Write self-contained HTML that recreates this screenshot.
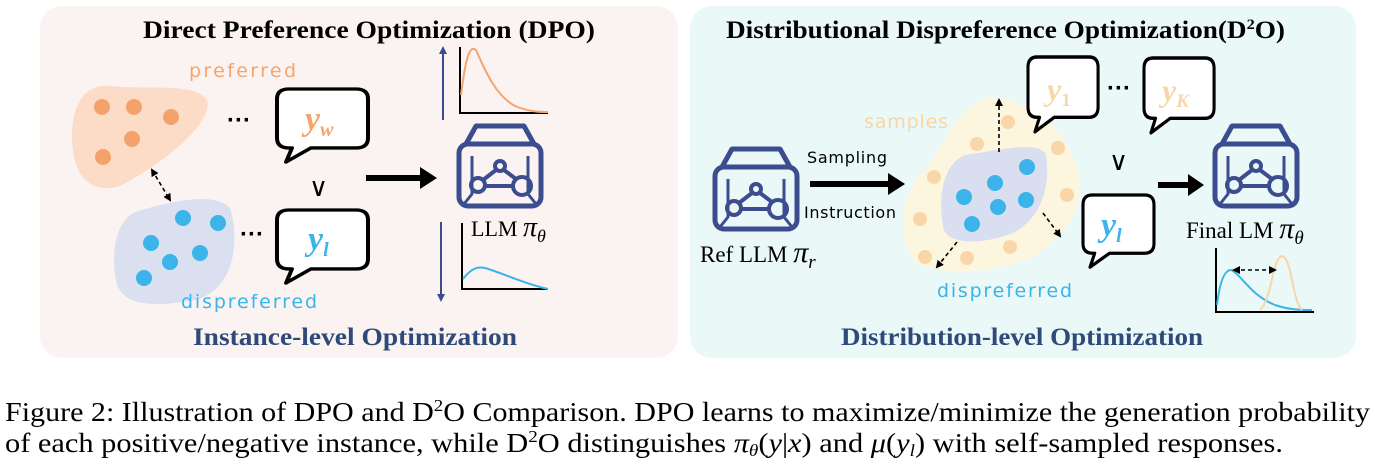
<!DOCTYPE html>
<html><head><meta charset="utf-8"><style>
html,body{margin:0;padding:0;background:#fff;}
svg{display:block}
.t{font-family:"Liberation Serif",serif;font-weight:bold;}
.c{font-family:"DejaVu Sans","Liberation Sans",sans-serif;}
.m{font-family:"Liberation Serif",serif;font-style:italic;}
.s{font-family:"Liberation Serif",serif;}
</style></head><body>
<svg width="1375" height="468" viewBox="0 0 1375 468" xmlns="http://www.w3.org/2000/svg">
<defs>
<marker id="ah" markerWidth="8" markerHeight="8" refX="6" refY="4" orient="auto" markerUnits="userSpaceOnUse"><path d="M0,0 L8,4 L0,8 z" fill="#000"/></marker>
<marker id="ahs" markerWidth="8" markerHeight="8" refX="6" refY="4" orient="auto-start-reverse" markerUnits="userSpaceOnUse"><path d="M0,0 L8,4 L0,8 z" fill="#000"/></marker>
<marker id="ahb" markerWidth="8" markerHeight="8" refX="6" refY="4" orient="auto" markerUnits="userSpaceOnUse"><path d="M0,0 L8,4 L0,8 z" fill="#3b4d8f"/></marker>
<g id="icon" fill="none" stroke="#3b4d8f" stroke-width="5" stroke-linejoin="round">
<path d="M10,22 L20,4 L68,4 L78,22"/>
<rect x="3" y="22" width="82" height="62" rx="9"/>
<path d="M12,22 L76,22" stroke-width="3"/>
<path d="M16,34 L16,72 L8,82 M72,34 L72,72 L80,82" stroke-width="3"/>
<circle cx="44" cy="44" r="5" stroke-width="4"/>
<circle cx="22" cy="63" r="7" stroke-width="4"/>
<circle cx="66" cy="64" r="9" stroke-width="4"/>
<path d="M27,58 L40,48 M48,48 L60,57 M30,64 L56,64" stroke-width="4"/>
</g>
<g id="bub" fill="#fff" stroke="#000" stroke-width="4" stroke-linejoin="round">
<path d="M12,0 H79 Q91,0 91,12 V59 Q91,71 79,71 H34 L9,88 L15,71 H12 Q0,71 0,59 V12 Q0,0 12,0 Z"/>
</g>
</defs>

<rect x="40" y="6" width="638" height="352" rx="22" fill="#fbf3f2"/>
<rect x="690" y="6" width="666" height="352" rx="22" fill="#eaf8f8"/>

<!-- LEFT -->
<text class="t" x="143" y="38" font-size="25" textLength="452" lengthAdjust="spacingAndGlyphs" fill="#000">Direct Preference Optimization (DPO)</text>
<path d="M110,86 C150,90 195,82 207,100 C214,120 170,160 120,186 C90,195 73,175 72,140 C71,105 85,83 110,86 Z" fill="#fcdcc6"/>
<g fill="#f4a26b"><circle cx="102" cy="107" r="8"/><circle cx="134" cy="107" r="8"/><circle cx="171" cy="117" r="8"/><circle cx="132" cy="139" r="8"/><circle cx="103" cy="157" r="8"/></g>
<text class="c" x="189" y="77" font-size="19" textLength="107" fill="#f5a46d">preferred</text>
<path d="M135,212 C175,200 215,192 230,208 C240,240 235,290 195,300 C150,308 125,305 117,285 C110,255 115,222 135,212 Z" fill="#dae0ef"/>
<g fill="#3ab4e9"><circle cx="183" cy="218" r="8"/><circle cx="218" cy="223" r="8"/><circle cx="151" cy="243" r="8"/><circle cx="200" cy="253" r="8"/><circle cx="170" cy="262" r="8"/><circle cx="144" cy="278" r="8"/></g>
<text class="c" x="181" y="308" font-size="19" textLength="136" fill="#3ab4e9">dispreferred</text>
<line x1="152" y1="170" x2="170" y2="200" stroke="#000" stroke-width="1.6" stroke-dasharray="4,3" marker-start="url(#ahs)" marker-end="url(#ah)"/>
<text x="227" y="128" font-size="24" font-weight="bold" font-family="Liberation Sans,sans-serif">···</text>
<text x="240" y="242" font-size="24" font-weight="bold" font-family="Liberation Sans,sans-serif">···</text>
<g transform="translate(277,89) scale(1,0.83)"><use href="#bub"/></g>
<text class="m" x="305" y="130" font-size="34" fill="#f5a46d" font-weight="bold">y<tspan font-size="20" dy="6">w</tspan></text>
<text x="309" y="196" font-size="26" font-family="DejaVu Sans,sans-serif">∨</text>
<g transform="translate(277,210) scale(1,0.83)"><use href="#bub"/></g>
<text class="m" x="308" y="250" font-size="34" fill="#3ab4e9" font-weight="bold">y<tspan font-size="20" dy="6">l</tspan></text>
<line x1="366" y1="178" x2="425" y2="178" stroke="#000" stroke-width="6"/>
<path d="M420,167 L437,178 L420,189 z" fill="#000"/>
<use href="#icon" x="456" y="122"/>
<line x1="443" y1="120" x2="443" y2="48" stroke="#3b4d8f" stroke-width="2" marker-end="url(#ahb)"/>
<path d="M460,47 V113 H548" fill="none" stroke="#000" stroke-width="2"/>
<path d="M461,95 C466,55 470,45 476,50 C485,70 495,95 515,106 C530,112 540,112 548,112" fill="none" stroke="#f5a46d" stroke-width="2"/>
<text x="471" y="236" font-size="22" class="s">LLM <tspan class="m" font-size="28">π</tspan><tspan class="m" font-size="18" dy="6">θ</tspan></text>
<line x1="441" y1="222" x2="441" y2="300" stroke="#3b4d8f" stroke-width="2" marker-end="url(#ahb)"/>
<path d="M462,223 V289 H548" fill="none" stroke="#000" stroke-width="2"/>
<path d="M463,279 C470,270 476,266 485,268 C505,274 525,284 548,289" fill="none" stroke="#3ab4e9" stroke-width="2"/>
<text class="t" x="193" y="345" font-size="25" textLength="324" lengthAdjust="spacingAndGlyphs" fill="#2e4a78">Instance-level Optimization</text>

<!-- RIGHT -->
<text class="t" x="726" y="38" font-size="25" textLength="559" lengthAdjust="spacingAndGlyphs" fill="#000">Distributional Dispreference Optimization(D<tspan font-size="15" dy="-9">2</tspan><tspan dy="9">O)</tspan></text>
<use href="#icon" x="712" y="145"/>
<text x="700" y="262" font-size="23" class="s">Ref LLM <tspan class="m" font-size="30">π</tspan><tspan class="m" font-size="19" dy="6">r</tspan></text>
<text x="807" y="163" font-size="16" textLength="80" font-family="DejaVu Sans,sans-serif">Sampling</text>
<text x="804" y="218" font-size="16" textLength="92" font-family="DejaVu Sans,sans-serif">Instruction</text>
<line x1="810" y1="184" x2="892" y2="184" stroke="#000" stroke-width="6"/>
<path d="M888,173 L905,184 L888,195 z" fill="#000"/>
<path d="M990,97 C1030,100 1060,125 1075,160 C1090,200 1070,235 1030,258 C990,275 940,275 915,262 C898,240 900,200 920,175 C945,150 955,105 990,97 Z" fill="#fdf6df"/>
<text class="c" x="864" y="128" font-size="19" textLength="84" fill="#f9d6a7">samples</text>
<g fill="#f9d6a7"><circle cx="1008" cy="122" r="7"/><circle cx="977" cy="144" r="7"/><circle cx="1058" cy="148" r="7"/><circle cx="934" cy="177" r="7"/><circle cx="1067" cy="195" r="7"/><circle cx="920" cy="219" r="7"/><circle cx="1010" cy="247" r="7"/><circle cx="925" cy="257" r="7"/><circle cx="967" cy="258" r="7"/></g>
<path d="M965,155 C1000,150 1040,140 1046,155 C1050,180 1045,215 1015,232 C985,245 950,245 944,230 C938,205 940,165 965,155 Z" fill="#d9def0"/>
<g fill="#3ab4e9"><circle cx="1027" cy="167" r="8"/><circle cx="995" cy="183" r="8"/><circle cx="964" cy="197" r="8"/><circle cx="1026" cy="200" r="8"/><circle cx="998" cy="207" r="8"/><circle cx="972" cy="224" r="8"/></g>
<line x1="999" y1="152" x2="999" y2="100" stroke="#000" stroke-width="1.6" stroke-dasharray="4,3" marker-end="url(#ah)"/>
<line x1="1043" y1="213" x2="1060" y2="236" stroke="#000" stroke-width="1.6" stroke-dasharray="4,3" marker-end="url(#ah)"/>
<line x1="957" y1="242" x2="937" y2="267" stroke="#000" stroke-width="1.6" stroke-dasharray="4,3" marker-end="url(#ah)"/>
<text class="c" x="937" y="297" font-size="19" textLength="135" fill="#3ab4e9">dispreferred</text>
<g transform="translate(1028,57) scale(0.77,0.85)"><use href="#bub"/></g>
<text class="m" x="1047" y="100" font-size="32" fill="#f9d6a7" font-weight="bold">y<tspan font-size="19" dy="6" font-style="normal">1</tspan></text>
<text x="1107" y="96" font-size="24" font-weight="bold" font-family="Liberation Sans,sans-serif">···</text>
<g transform="translate(1144,58) scale(0.77,0.85)"><use href="#bub"/></g>
<text class="m" x="1162" y="101" font-size="32" fill="#f9d6a7" font-weight="bold">y<tspan font-size="19" dy="6">K</tspan></text>
<text x="1109" y="170" font-size="26" font-family="DejaVu Sans,sans-serif">∨</text>
<g transform="translate(1083,195) scale(0.78,0.82)"><use href="#bub"/></g>
<text class="m" x="1101" y="236" font-size="34" fill="#3ab4e9" font-weight="bold">y<tspan font-size="20" dy="6">l</tspan></text>
<line x1="1158" y1="185" x2="1192" y2="185" stroke="#000" stroke-width="6"/>
<path d="M1188,174 L1204,185 L1188,196 z" fill="#000"/>
<use href="#icon" x="1212" y="122"/>
<text x="1186" y="238" font-size="23" class="s">Final LM <tspan class="m" font-size="30">π</tspan><tspan class="m" font-size="19" dy="6">θ</tspan></text>
<path d="M1216,248 V312 H1314" fill="none" stroke="#000" stroke-width="2"/>
<path d="M1217,305 C1220,280 1225,270 1231,270 C1242,275 1250,295 1275,305 C1290,310 1300,310 1312,310" fill="none" stroke="#3ab4e9" stroke-width="2"/>
<path d="M1260,310 C1272,300 1272,258 1282,256 C1292,258 1292,300 1302,310" fill="none" stroke="#f9d6a7" stroke-width="2"/>
<line x1="1234" y1="270" x2="1275" y2="270" stroke="#000" stroke-width="1.6" stroke-dasharray="4,3" marker-start="url(#ahs)" marker-end="url(#ah)"/>
<text class="t" x="841" y="345" font-size="25" textLength="362" lengthAdjust="spacingAndGlyphs" fill="#2e4a78">Distribution-level Optimization</text>

<!-- Caption -->
<text x="5" y="421" font-size="27" class="s" textLength="1365" lengthAdjust="spacingAndGlyphs">Figure 2: Illustration of DPO and D<tspan font-size="17" dy="-10">2</tspan><tspan dy="10">O Comparison. DPO learns to maximize/minimize the generation probability</tspan></text>
<text x="5" y="452" font-size="27" class="s" textLength="1278" lengthAdjust="spacingAndGlyphs">of each positive/negative instance, while D<tspan font-size="17" dy="-10">2</tspan><tspan dy="10">O distinguishes </tspan><tspan class="m">π</tspan><tspan class="m" font-size="17" dy="4">θ</tspan><tspan dy="-4">(</tspan><tspan class="m">y</tspan>|<tspan class="m">x</tspan>) and <tspan class="m">μ</tspan>(<tspan class="m">y</tspan><tspan class="m" font-size="17" dy="4">l</tspan><tspan dy="-4">) with self-sampled responses.</tspan></text>
</svg>
</body></html>
